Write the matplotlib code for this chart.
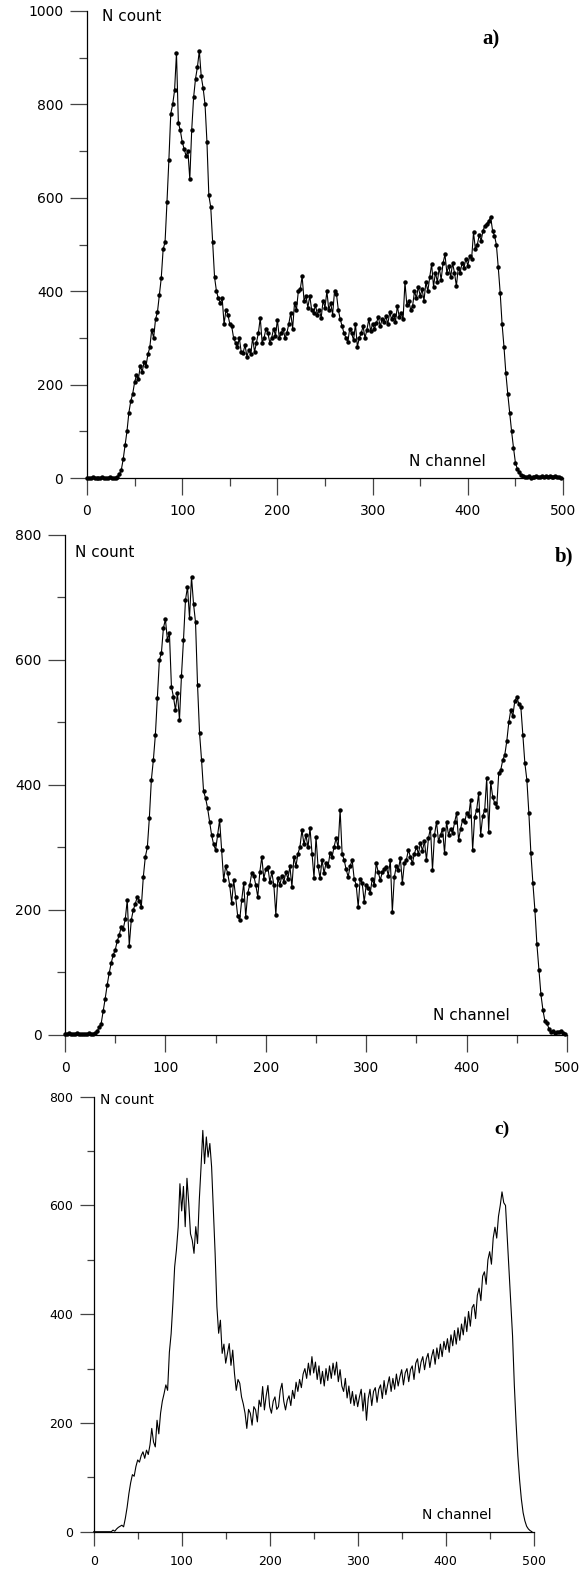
import matplotlib
matplotlib.use('Agg')
import numpy as np
import matplotlib.pyplot as plt
from matplotlib.ticker import MultipleLocator

# kanal 0, 2, 4 ... 498
channels = list(range(0, 500, 2))

counts_a = [0, 1, 0, 2, 1, 0, 1, 0, 2, 1,
            0, 1, 2, 1, 0, 1, 3, 8, 17, 40,
            70, 100, 140, 165, 180, 205, 220, 212, 240, 228,
            248, 240, 265, 280, 318, 300, 340, 355, 392, 428,
            490, 505, 590, 680, 780, 800, 830, 910, 760, 745,
            720, 705, 690, 700, 640, 745, 815, 855, 880, 915,
            860, 835, 800, 720, 605, 580, 505, 430, 400, 385,
            375, 385, 330, 360, 350, 330, 325, 300, 290, 280,
            300, 270, 268, 285, 260, 275, 265, 300, 270, 290,
            310, 343, 290, 300, 320, 311, 290, 300, 320, 305,
            339, 300, 310, 320, 300, 311, 330, 354, 320, 375,
            360, 400, 404, 432, 380, 390, 365, 390, 360, 354,
            370, 350, 360, 343, 380, 365, 400, 360, 375, 350,
            400, 395, 360, 340, 325, 310, 300, 292, 320, 310,
            295, 330, 281, 300, 310, 325, 300, 317, 340, 315,
            330, 320, 332, 345, 325, 340, 335, 346, 330, 355,
            340, 350, 335, 368, 345, 354, 340, 419, 370, 380,
            360, 368, 400, 385, 410, 390, 404, 380, 420, 400,
            430, 458, 410, 440, 420, 450, 425, 460, 479, 440,
            455, 430, 460, 440, 411, 450, 440, 461, 450, 470,
            455, 475, 469, 526, 490, 500, 520, 508, 530, 540,
            545, 550, 559, 530, 519, 500, 451, 397, 330, 281,
            224, 180, 140, 100, 65, 33, 20, 12, 6, 4,
            3, 2, 4, 1, 3, 2, 5, 2, 3, 4,
            2, 4, 3, 5, 2, 3, 4, 2, 3, 1]

counts_b = [2, 1, 3, 2, 1, 2, 3, 1, 2, 1,
            2, 1, 3, 2, 1, 3, 6, 12, 18, 38,
            58, 80, 99, 115, 128, 136, 150, 160, 173, 170,
            185, 216, 143, 184, 200, 210, 221, 215, 205, 253,
            285, 300, 347, 408, 440, 480, 539, 600, 611, 651,
            665, 632, 643, 557, 541, 520, 547, 504, 575, 632,
            696, 717, 667, 733, 690, 660, 560, 483, 440, 390,
            379, 363, 341, 320, 305, 296, 320, 344, 296, 248,
            270, 259, 240, 211, 248, 220, 190, 184, 216, 243,
            189, 227, 240, 259, 255, 240, 221, 260, 285, 250,
            265, 269, 245, 260, 240, 192, 251, 240, 255, 245,
            261, 250, 270, 237, 285, 270, 290, 301, 328, 305,
            320, 300, 331, 290, 251, 317, 270, 251, 280, 259,
            275, 270, 291, 285, 301, 315, 300, 360, 290, 280,
            265, 253, 270, 280, 250, 240, 205, 250, 243, 213,
            240, 235, 227, 250, 240, 275, 260, 248, 260, 265,
            269, 255, 280, 197, 253, 270, 264, 283, 243, 275,
            280, 296, 285, 275, 290, 301, 290, 307, 295, 310,
            280, 315, 331, 264, 320, 341, 310, 320, 330, 291,
            341, 320, 330, 323, 340, 355, 312, 330, 344, 340,
            355, 350, 376, 296, 349, 360, 387, 320, 350, 360,
            411, 325, 405, 380, 371, 365, 419, 424, 440, 448,
            470, 500, 520, 510, 535, 540, 530, 525, 480, 435,
            408, 355, 291, 243, 200, 145, 104, 65, 40, 22,
            19, 10, 4, 6, 3, 5, 4, 6, 3, 2]

counts_c = [0, 0, 0, 0, 0, 0, 0, 0, 0, 0,
            0, 3, 1, 5, 8, 10, 12, 9, 25, 45,
            70, 90, 105, 102, 120, 132, 128, 140, 147, 135,
            150, 142, 160, 190, 165, 156, 205, 180, 218, 240,
            254, 270, 260, 330, 364, 420, 487, 518, 560, 640,
            590, 635, 561, 650, 604, 548, 536, 512, 561, 530,
            610, 671, 738, 677, 726, 689, 714, 671, 591, 512,
            414, 365, 389, 328, 345, 310, 328, 346, 306, 334,
            291, 260, 280, 273, 248, 235, 218, 190, 225, 218,
            196, 230, 224, 202, 242, 230, 267, 224, 250, 269,
            230, 218, 240, 248, 225, 230, 260, 273, 240, 224,
            242, 250, 232, 260, 245, 275, 258, 280, 265, 290,
            300, 282, 310, 288, 322, 292, 312, 280, 305, 272,
            295, 268, 300, 278, 305, 282, 310, 288, 312, 276,
            298, 268, 258, 282, 246, 268, 236, 258, 232, 252,
            230, 248, 262, 222, 255, 205, 245, 262, 232, 258,
            265, 238, 262, 270, 245, 278, 252, 270, 285, 258,
            282, 262, 290, 268, 285, 298, 270, 292, 300, 276,
            298, 305, 280, 310, 318, 292, 312, 322, 298, 318,
            328, 302, 322, 335, 308, 338, 318, 345, 322, 350,
            335, 355, 330, 362, 342, 370, 345, 375, 352, 382,
            362, 395, 368, 405, 378, 412, 418, 392, 435, 448,
            425, 470, 478, 455, 500, 515, 492, 540, 560, 540,
            580, 600, 625, 605, 600, 540, 480, 420, 360, 270,
            200, 140, 95, 60, 35, 20, 10, 5, 2, 0]

y_top = [1000, 800, 800]
labels = ['a)', 'b)', 'c)']

fig = plt.figure(figsize=(5.83, 15.71), dpi=100)

# [left, bottom, width, height] i figurbråkdel
ax_a = fig.add_axes([0.1492, 0.6957, 0.8165, 0.2973])
ax_b = fig.add_axes([0.1115, 0.3412, 0.8611, 0.3183])
ax_c = fig.add_axes([0.1607, 0.0250, 0.7547, 0.2769])


def style_axis(ax, ymax, fs):
    ax.set_xlim(0, 500)
    ax.set_ylim(0, ymax)
    ax.spines['top'].set_visible(False)
    ax.spines['right'].set_visible(False)
    ax.spines['left'].set_linewidth(0.9)
    ax.spines['bottom'].set_linewidth(0.9)
    ax.xaxis.set_major_locator(MultipleLocator(100))
    ax.xaxis.set_minor_locator(MultipleLocator(50))
    ax.yaxis.set_major_locator(MultipleLocator(200))
    ax.yaxis.set_minor_locator(MultipleLocator(100))
    ax.tick_params(which='major', direction='out', length=12, width=0.9,
                   labelsize=fs, color='#444444')
    ax.tick_params(which='minor', direction='out', length=6, width=0.9,
                   color='#444444')
    ax.tick_params(axis='x', which='major', pad=7)
    ax.tick_params(axis='y', which='major', pad=5)


# a)
ax_a.plot(channels, counts_a, color='black', lw=0.8, marker='o', ms=2.2,
          clip_on=False)
style_axis(ax_a, y_top[0], 10)
ax_a.text(0.032, 0.989, 'N count', transform=ax_a.transAxes, fontsize=11,
          ha='left', va='center')
ax_a.text(0.758, 0.036, 'N channel', transform=ax_a.transAxes, fontsize=11,
          ha='center', va='center')
ax_a.text(0.849, 0.938, labels[0], transform=ax_a.transAxes, fontsize=15,
          family='Liberation Serif', weight='bold', ha='center', va='center')

# b)
ax_b.plot(channels, counts_b, color='black', lw=0.8, marker='o', ms=2.2,
          clip_on=False)
style_axis(ax_b, y_top[1], 10)
ax_b.text(0.02, 0.965, 'N count', transform=ax_b.transAxes, fontsize=11,
          ha='left', va='center')
ax_b.text(0.81, 0.038, 'N channel', transform=ax_b.transAxes, fontsize=11,
          ha='center', va='center')
ax_b.text(0.994, 0.956, labels[1], transform=ax_b.transAxes, fontsize=15,
          family='Liberation Serif', weight='bold', ha='center', va='center')

# c)
ax_c.plot(channels, counts_c, color='black', lw=0.8, clip_on=False)
style_axis(ax_c, y_top[2], 9)
ax_c.tick_params(which='major', length=10)
ax_c.tick_params(which='minor', length=5)
ax_c.text(0.014, 0.992, 'N count', transform=ax_c.transAxes, fontsize=10,
          ha='left', va='center')
ax_c.text(0.826, 0.038, 'N channel', transform=ax_c.transAxes, fontsize=10,
          ha='center', va='center')
ax_c.text(0.928, 0.926, labels[2], transform=ax_c.transAxes, fontsize=14,
          family='Liberation Serif', weight='bold', ha='center', va='center')

fig.savefig('out.png', dpi=100)
